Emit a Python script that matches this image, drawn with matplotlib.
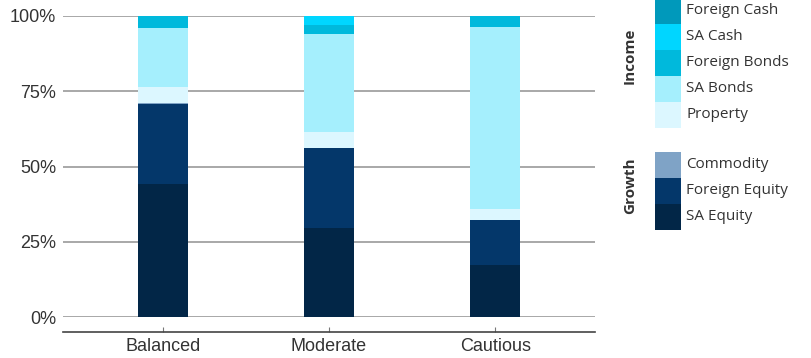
import matplotlib.pyplot as plt
from matplotlib.patches import Rectangle
import numpy as np

# portfolio mixes, % of total, stacked bottom to top
funds = ["Balanced", "Moderate", "Cautious"]
sa_equity = [44.2, 29.6, 17.3]
foreign_equity = [26.6, 26.6, 15.0]
commodity = [0.3, 0.0, 0.0]
property_ = [5.3, 5.4, 3.6]
sa_bonds = [19.7, 32.5, 60.5]
foreign_bonds = [3.9, 3.0, 3.6]
sa_cash = [0.0, 2.9, 0.0]
foreign_cash = [0.0, 0.0, 0.0]

y_ticks = [0, 25, 50, 75, 100]
y_tick_labels = ["0%", "25%", "50%", "75%", "100%"]

colors = {
    "SA Equity": "#022647",
    "Foreign Equity": "#04376a",
    "Commodity": "#7fa3c6",
    "Property": "#dcf7ff",
    "SA Bonds": "#a5effd",
    "Foreign Bonds": "#00b9dc",
    "SA Cash": "#00d6ff",
    "Foreign Cash": "#0099bb",
}

stack = [
    ("SA Equity", sa_equity),
    ("Foreign Equity", foreign_equity),
    ("Commodity", commodity),
    ("Property", property_),
    ("SA Bonds", sa_bonds),
    ("Foreign Bonds", foreign_bonds),
    ("SA Cash", sa_cash),
    ("Foreign Cash", foreign_cash),
]

income_items = ["Foreign Cash", "SA Cash", "Foreign Bonds", "SA Bonds", "Property"]
growth_items = ["Commodity", "Foreign Equity", "SA Equity"]

W, H = 811, 358
fig = plt.figure(figsize=(W / 100, H / 100), dpi=100)
ax = fig.add_axes([63 / W, 1 - 317 / H, (595 - 63) / W, (317 - 16) / H])

x = np.arange(len(funds))
bottom = np.zeros(len(funds))
for name, vals in stack:
    vals = np.array(vals)
    ax.bar(x, vals, width=0.3, bottom=bottom, color=colors[name], zorder=3)
    bottom += vals

ax.set_xlim(-0.6, 2.6)
ax.set_ylim(0, 100)
ax.set_yticks(y_ticks)
ax.set_yticklabels(y_tick_labels)
ax.set_xticks(x)
ax.set_xticklabels(funds)
ax.grid(axis="y", color="#9a9a9a", linewidth=1.2, zorder=0)
ax.set_axisbelow(True)

for s in ["top", "right", "left"]:
    ax.spines[s].set_visible(False)
# x axis line sits a little below the 0% gridline
ax.spines["bottom"].set_position(("outward", 10.8))
ax.spines["bottom"].set_color("#444444")
ax.spines["bottom"].set_linewidth(1.2)

ax.tick_params(axis="y", length=0, pad=5, labelsize=13, labelcolor="#333333")
ax.tick_params(axis="x", direction="in", length=3.6, color="#777777",
               pad=4, labelsize=13, labelcolor="#333333")
for lbl in ax.get_xticklabels() + ax.get_yticklabels():
    lbl.set_fontfamily("Liberation Sans")

# legend drawn in pixel space on the right
lax = fig.add_axes([0, 0, 1, 1])
lax.set_xlim(0, W)
lax.set_ylim(H, 0)
lax.axis("off")

row_h = 26


def legend_block(items, top):
    for i, name in enumerate(items):
        y0 = top + i * row_h
        lax.add_patch(Rectangle((655, y0), 26, row_h, facecolor=colors[name],
                                edgecolor="none"))
        lax.text(686, y0 + row_h / 2, name, va="center", ha="left",
                 fontsize=11, color="#333333", family="Open Sans")


legend_block(income_items, -2)
legend_block(growth_items, 152)

lax.text(630, 56, "Income", rotation=90, va="center", ha="center",
         fontsize=11, fontweight="bold", color="#333333", family="Open Sans")
lax.text(630, 186, "Growth", rotation=90, va="center", ha="center",
         fontsize=11, fontweight="bold", color="#333333", family="Open Sans")

fig.savefig("out.png", dpi=100)
